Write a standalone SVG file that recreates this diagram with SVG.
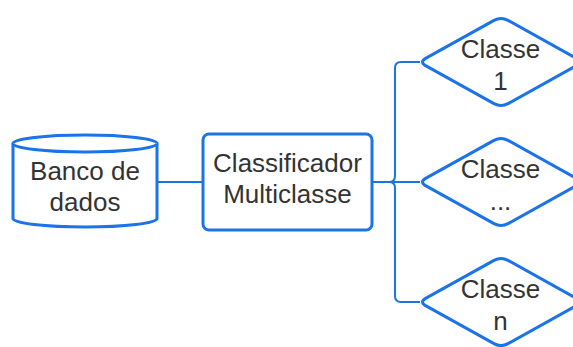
<svg xmlns="http://www.w3.org/2000/svg" width="573" height="347" viewBox="0 0 573 347">
  <style>
    .shape { fill: #ffffff; stroke: #1a73e8; stroke-width: 3; stroke-linejoin: round; }
    .edge { fill: none; stroke: #1a73e8; stroke-width: 2; }
    .label { font-family: "Liberation Sans", Arial, sans-serif; font-size: 26px; fill: #333333; text-anchor: middle; }
  </style>
  <defs>
    <!-- decision diamond with softened corners, centred on the origin -->
    <path id="diamond" d="M -75,-3.9 L -7,-41.6 Q 0,-45.5 7,-41.6 L 75,-3.9 Q 82,0 75,3.9 L 7,41.6 Q 0,45.5 -7,41.6 L -75,3.9 Q -82,0 -75,-3.9 Z"/>
  </defs>
  <rect width="573" height="347" fill="#ffffff"/>

  <g id="connectors">
    <path class="edge" d="M 157,182 H 203"/>
    <path class="edge" d="M 372,182 H 420"/>
    <path class="edge" d="M 372,182 H 389 Q 395,182 395,176 V 68 Q 395,62 401,62 H 420"/>
    <path class="edge" d="M 372,182 H 389 Q 395,182 395,188 V 296 Q 395,302 401,302 H 420"/>
  </g>

  <g id="banco-de-dados">
    <path class="shape" d="M 13,143.5 V 218.5 A 72,8.5 0 0 0 157,218.5 V 143.5 A 72,8.5 0 0 0 13,143.5 Z"/>
    <path class="shape" d="M 13,143.5 A 72,8.5 0 0 0 157,143.5"/>
    <text class="label" x="85" y="180">Banco de</text>
    <text class="label" x="85" y="211">dados</text>
  </g>

  <g id="classificador">
    <rect class="shape" x="203" y="134" width="169" height="96" rx="6"/>
    <text class="label" x="287.5" y="172">Classificador</text>
    <text class="label" x="287.5" y="203">Multiclasse</text>
  </g>

  <g id="classe-1">
    <use href="#diamond" class="shape" transform="translate(501,62)"/>
    <text class="label" x="500.5" y="58">Classe</text>
    <text class="label" x="500.5" y="90">1</text>
  </g>

  <g id="classe-meio">
    <use href="#diamond" class="shape" transform="translate(501,182)"/>
    <text class="label" x="500.5" y="178">Classe</text>
    <text class="label" x="500.5" y="210">...</text>
  </g>

  <g id="classe-n">
    <use href="#diamond" class="shape" transform="translate(501,302)"/>
    <text class="label" x="500.5" y="298">Classe</text>
    <text class="label" x="500.5" y="330">n</text>
  </g>
</svg>
